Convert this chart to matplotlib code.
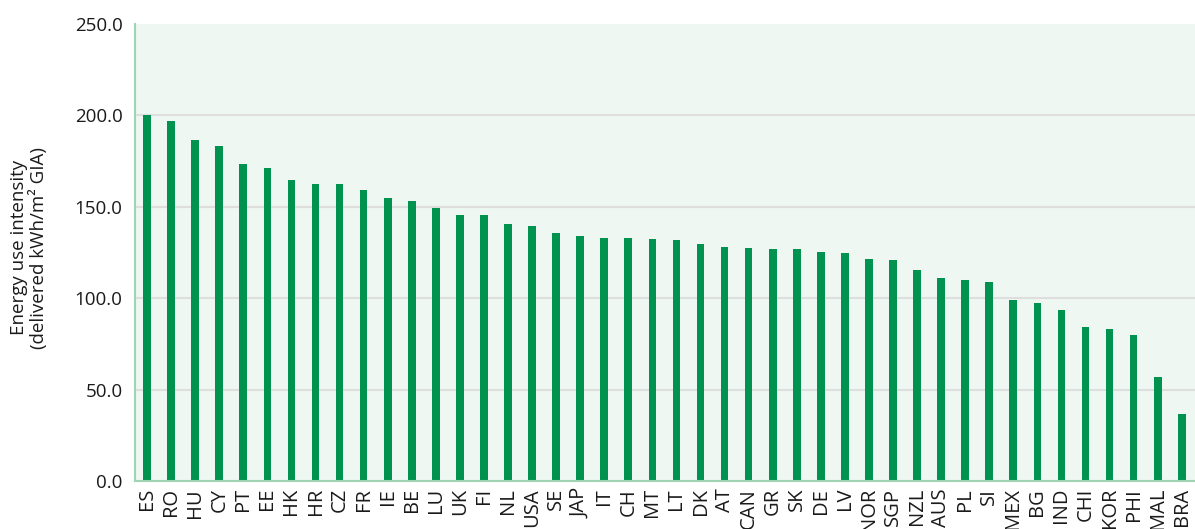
import matplotlib
matplotlib.use('Agg')
import matplotlib.pyplot as plt
import numpy as np

countries = ['ES', 'RO', 'HU', 'CY', 'PT', 'EE', 'HK', 'HR', 'CZ', 'FR', 'IE', 'BE',
             'LU', 'UK', 'FI', 'NL', 'USA', 'SE', 'JAP', 'IT', 'CH', 'MT', 'LT', 'DK',
             'AT', 'CAN', 'GR', 'SK', 'DE', 'LV', 'NOR', 'SGP', 'NZL', 'AUS', 'PL', 'SI',
             'MEX', 'BG', 'IND', 'CHI', 'KOR', 'PHI', 'MAL', 'BRA']
intensity = [200.2, 197.1, 186.4, 183.3, 173.2, 171.1, 164.9, 162.3, 162.3, 159.4, 155.0, 152.9,
             149.4, 145.6, 145.6, 140.4, 139.3, 135.5, 134.2, 132.9, 132.9, 132.2, 131.6, 129.4,
             127.9, 127.2, 126.7, 126.7, 125.4, 124.8, 121.7, 121.0, 115.4, 111.0, 109.7, 109.0,
             99.1, 97.2, 93.6, 84.0, 83.3, 79.6, 57.0, 36.8]
y_ticks = [0, 50, 100, 150, 200, 250]

bar_col = '#00924f'
bg_col = '#eef7f1'
spine_col = '#9fd4b2'
grid_col = '#dedede'
text_col = '#1a1a1a'

plt.rcParams['font.family'] = ['Open Sans', 'DejaVu Sans']

fig = plt.figure(figsize=(11.95, 5.29), dpi=100)
ax = fig.add_axes([0.113, 0.0907, 0.887, 0.864])
ax.set_facecolor(bg_col)

x = np.arange(len(countries))
ax.bar(x, intensity, width=0.32, color=bar_col, zorder=3)

ax.set_xlim(-0.5, len(countries) - 0.45)
ax.set_ylim(0, 250)
ax.set_yticks(y_ticks)
ax.set_yticklabels([f'{v:.1f}' for v in y_ticks])
ax.set_xticks(x)
ax.set_xticklabels(countries, rotation=90, va='top', ha='center')

# gridlines only inside the plot, none on the top edge
for v in y_ticks[1:-1]:
    ax.axhline(v, color=grid_col, linewidth=1.5, zorder=1)

for s in ['top', 'right']:
    ax.spines[s].set_visible(False)
for s in ['left', 'bottom']:
    ax.spines[s].set_color(spine_col)
    ax.spines[s].set_linewidth(1.5)
    ax.spines[s].set_zorder(4)

ax.tick_params(axis='y', length=0, pad=9, labelsize=13.5, labelcolor=text_col)
ax.tick_params(axis='x', length=0, pad=5, labelsize=14.5, labelcolor=text_col)

ax.set_ylabel('Energy use intensity\n(delivered kWh/m² GIA)', fontsize=13.5,
              color=text_col, linespacing=1.1)
ax.yaxis.set_label_coords(-0.082, 0.51)

fig.savefig('out.png', dpi=100)
